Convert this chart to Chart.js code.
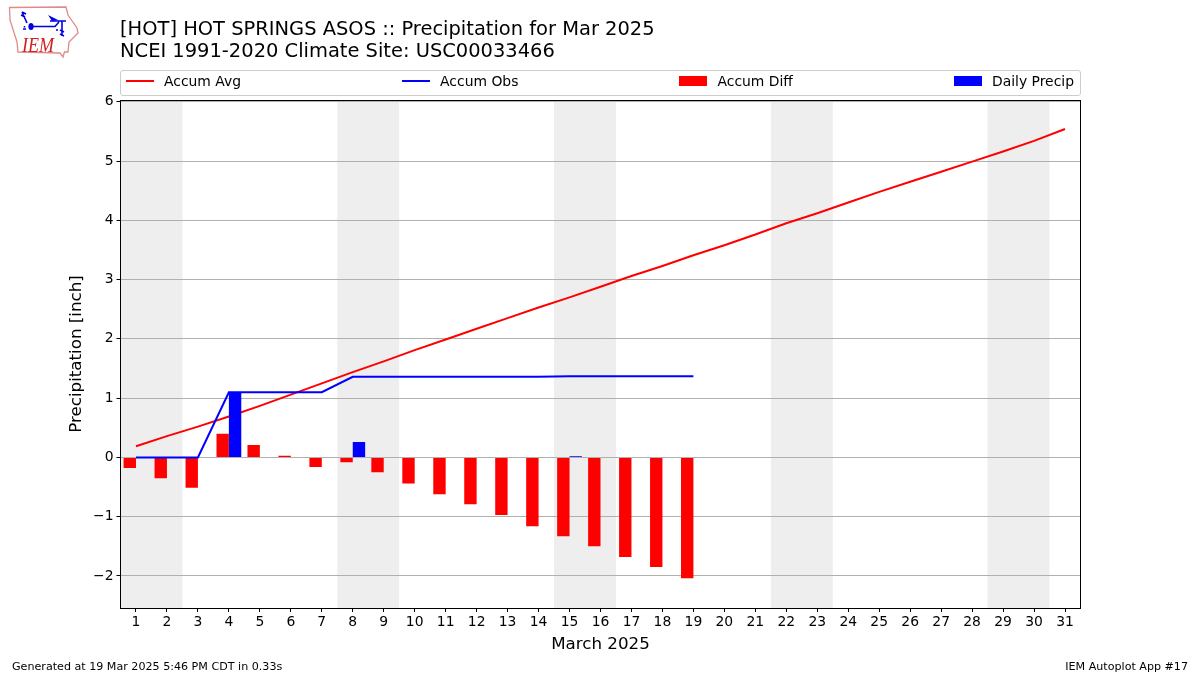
<!DOCTYPE html>
<html>
<head>
<meta charset="utf-8">
<title>Precipitation for Mar 2025</title>
<script src="https://cdn.jsdelivr.net/npm/chart.js@4"></script>
<style>
html, body { margin: 0; padding: 0; background: #fff; }
body { width: 1200px; height: 675px; position: relative; overflow: hidden; font-family: "DejaVu Sans", sans-serif; color: #000; }
canvas { position: absolute; left: 0; top: 0; }
#logo { position: absolute; left: 0; top: 0; }
#title { position: absolute; left: 120px; top: 18px; font-size: 19.47px; line-height: 22px; white-space: pre; }
#legend { position: absolute; left: 120px; top: 70px; height: 20px; border: 1px solid #ccc; border-radius: 3px; display: flex; justify-content: space-between; align-items: center; padding: 0 6px 4px 5px; width: 948px; font-size: 13.9px; }
.item { display: flex; align-items: center; white-space: pre; }
.swatch { width: 28px; margin-right: 10px; }
#footL, #footR { position: absolute; top: 660px; font-size: 11.12px; white-space: pre; }
#footL { left: 12px; }
#footR { right: 12px; }
</style>
</head>
<body>
<canvas id="grafico" width="1200" height="675"></canvas>
<svg id="logo" width="90" height="62" viewBox="0 0 90 62">
  <path d="M9.5 7.5 L66 7 L68 15 L77 28 L78 33 L69 42 L68 52 L64.5 52 L63 57 L60 53 L18 52 L17 42 L10 20 Z" fill="none" stroke="#e08a8a" stroke-width="1.3"/>
  <path d="M31 26.5 L55 26.5 L59 22 M62 21 L62 36 M50 21 L66 21 M27 23 L22 12 M22 12 L26 14 M21 15 L25 17 M60 30 L64 32 M60 34 L64 36" stroke="#0000e0" stroke-width="1.6" fill="none"/>
  <path d="M48 15 L58 20 L52 21 Z" fill="#0000e0"/>
  <ellipse cx="31" cy="26.5" rx="2.6" ry="3.6" fill="#0000e0"/>
  <path d="M23 29 L26 29 M24.5 26 L24.5 27.5 M56 30 L58 30" stroke="#0000e0" stroke-width="1.5"/>
  <text x="22" y="52" textLength="32" lengthAdjust="spacingAndGlyphs" font-family="Liberation Serif" font-style="italic" font-size="20" fill="#d02020">IEM</text>
</svg>
<div id="title">[HOT] HOT SPRINGS ASOS :: Precipitation for Mar 2025
NCEI 1991-2020 Climate Site: USC00033466</div>
<div id="legend"></div>
<div id="footL">Generated at 19 Mar 2025 5:46 PM CDT in 0.33s</div>
<div id="footR">IEM Autoplot App #17</div>
<script>
var dias = ['1','2','3','4','5','6','7','8','9','10','11','12','13','14','15','16','17','18','19','20','21','22','23','24','25','26','27','28','29','30','31'];
var accumAvg = [0.19,0.36,0.52,0.69,0.87,1.06,1.25,1.44,1.62,1.81,1.99,2.17,2.35,2.53,2.70,2.88,3.06,3.23,3.41,3.58,3.76,3.95,4.12,4.30,4.48,4.65,4.82,4.99,5.16,5.34,5.54];
var accumObs = [0,0,0,1.10,1.10,1.10,1.10,1.36,1.36,1.36,1.36,1.36,1.36,1.36,1.37,1.37,1.37,1.37,1.37];
var accumDiff = [-0.18,-0.35,-0.51,0.40,0.21,0.03,-0.16,-0.08,-0.25,-0.44,-0.62,-0.79,-0.97,-1.16,-1.33,-1.50,-1.68,-1.85,-2.04];
var dailyPrecip = [null,null,null,1.10,null,null,null,0.26,null,null,null,null,null,null,0.02,null,null,null,null];
var fimDeSemana = [[1,2],[8,9],[15,16],[22,23],[29,30]];
var yTicks = [-2,-1,0,1,2,3,4,5,6];

var fonte = '"DejaVu Sans", sans-serif';

// faixas cinzentas dos fins de semana, por baixo de tudo
var faixas = {
    id: 'faixas',
    beforeDraw: function(chart) {
        var c = chart.ctx, a = chart.chartArea, x = chart.scales.x;
        var meio = (x.getPixelForValue(1) - x.getPixelForValue(0)) / 2;
        c.save();
        c.fillStyle = '#eeeeee';
        fimDeSemana.forEach(function(f) {
            var x0 = Math.max(x.getPixelForValue(f[0] - 1) - meio, Math.floor(a.left));
            var x1 = x.getPixelForValue(f[1] - 1) + meio;
            c.fillRect(x0, a.top, x1 - x0, a.bottom - a.top);
        });
        c.restore();
    },
    afterDraw: function(chart) {
        var c = chart.ctx, a = chart.chartArea;
        c.save();
        c.strokeStyle = '#000';
        c.lineWidth = 1;
        c.strokeRect(Math.floor(a.left) + 0.5, a.top + 0.5, Math.floor(a.right) - Math.floor(a.left), a.bottom - a.top);
        c.restore();
    }
};

var grafico = new Chart(document.getElementById('grafico').getContext('2d'), {
    type: 'bar',
    data: {
        labels: dias,
        datasets: [
            { type: 'line', label: 'Accum Avg', data: accumAvg, borderColor: '#ff0000', backgroundColor: '#ff0000', borderWidth: 2, pointRadius: 0, tension: 0, order: 3 },
            { type: 'line', label: 'Accum Obs', data: accumObs, borderColor: '#0000ff', backgroundColor: '#0000ff', borderWidth: 2, pointRadius: 0, tension: 0, order: 0 },
            { label: 'Accum Diff', data: accumDiff, backgroundColor: '#ff0000', barPercentage: 1, categoryPercentage: 0.8, order: 1 },
            { label: 'Daily Precip', data: dailyPrecip, backgroundColor: '#0000ff', barPercentage: 1, categoryPercentage: 0.8, order: 2 }
        ]
    },
    options: {
        responsive: false,
        animation: false,
        layout: { padding: { left: 0, top: 100, right: 119.5, bottom: 0 } },
        plugins: { legend: { display: false }, title: { display: false }, tooltip: { enabled: false } },
        scales: {
            x: {
                grid: { offset: false, drawOnChartArea: false, drawTicks: true, tickLength: 4, tickColor: '#000' },
                border: { color: '#000' },
                ticks: { color: '#000', font: { family: fonte, size: 13.9 }, maxRotation: 0, autoSkip: false, padding: 2 },
                title: { display: true, text: 'March 2025', color: '#000', font: { family: fonte, size: 16.7 }, padding: { top: 0, bottom: 20 } },
                afterFit: function(s) { s.height = 67; }
            },
            y: {
                min: -2.54,
                max: 6.03,
                afterBuildTicks: function(s) { s.ticks = yTicks.map(function(v) { return { value: v }; }); },
                grid: { color: '#b0b0b0', lineWidth: 1, tickColor: '#000', tickLength: 4 },
                border: { color: '#000' },
                ticks: { color: '#000', font: { family: fonte, size: 13.9 }, padding: 3, callback: function(v) { return String(v).replace('-', '\u2212'); } },
                title: { display: true, text: 'Precipitation [inch]', color: '#000', font: { family: fonte, size: 16.7 }, padding: { top: 67, bottom: 0 } },
                afterFit: function(s) { s.width = 120.5; }
            }
        }
    },
    plugins: [faixas]
});

// legenda em HTML, espalhada como no original
var legenda = document.getElementById('legend');
grafico.data.datasets.forEach(function(d) {
    var item = document.createElement('div');
    item.className = 'item';
    var sw = document.createElement('div');
    sw.className = 'swatch';
    sw.style.height = d.type === 'line' ? '2px' : '10px';
    sw.style.background = d.type === 'line' ? d.borderColor : d.backgroundColor;
    item.appendChild(sw);
    item.appendChild(document.createTextNode(d.label));
    legenda.appendChild(item);
});
</script>
</body>
</html>
